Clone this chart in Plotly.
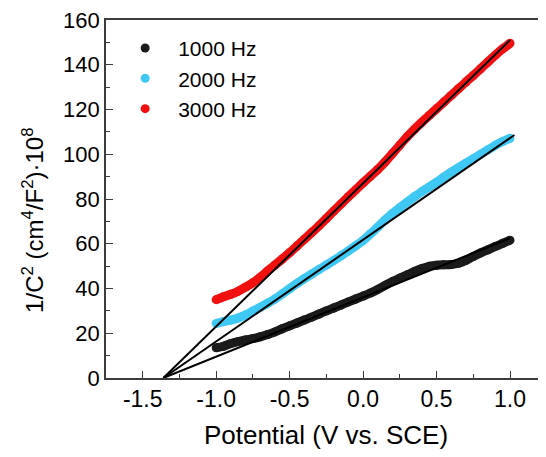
import plotly.graph_objects as go

# ==========================================================
# DATA
# ==========================================================

potential = [
    -1.00, -0.95, -0.90, -0.85, -0.80, -0.75, -0.70, -0.65, -0.60, -0.55,
    -0.50, -0.45, -0.40, -0.35, -0.30, -0.25, -0.20, -0.15, -0.10, -0.05,
    0.00, 0.05, 0.10, 0.15, 0.20, 0.25, 0.30, 0.35, 0.40, 0.45,
    0.50, 0.55, 0.60, 0.65, 0.70, 0.75, 0.80, 0.85, 0.90, 0.95, 1.00
]

c2_1000hz = [
    13.5, 14.2, 15.4, 16.3, 17.0, 17.6, 18.4, 19.4, 20.6, 22.0,
    23.3, 24.6, 25.9, 27.2, 28.6, 30.0, 31.3, 32.6, 34.0, 35.3,
    36.6, 38.0, 39.6, 41.4, 43.1, 44.6, 46.1, 47.6, 48.9, 49.9,
    50.4, 50.6, 50.7, 51.3, 52.6, 54.3, 55.9, 57.3, 58.8, 60.2, 61.6
]

c2_2000hz = [
    24.4, 25.2, 25.9, 26.8, 28.2, 29.9, 31.6, 33.4, 35.3, 37.6,
    39.9, 42.2, 44.4, 46.4, 48.5, 50.5, 52.5, 54.6, 56.8, 59.1,
    61.5, 64.4, 67.5, 70.6, 73.5, 76.1, 78.6, 81.0, 83.3, 85.4,
    87.5, 89.8, 92.0, 94.0, 96.0, 98.0, 100.0, 102.0, 104.0, 105.7, 107.1
]

c2_3000hz = [
    35.0, 36.3, 37.4, 38.8, 40.6, 42.6, 45.0, 47.8, 50.5, 53.2,
    56.0, 59.0, 62.0, 65.0, 68.1, 71.3, 74.6, 77.8, 81.0, 84.1,
    87.2, 90.2, 93.2, 96.6, 100.3, 104.1, 107.8, 111.2, 114.3, 117.3,
    120.3, 123.3, 126.3, 129.3, 132.3, 135.2, 138.2, 141.3, 144.3, 147.1, 149.6
]

# linear fits, extrapolated to the flat-band potential
fit_x_1000 = [-1.36, 1.00]
fit_y_1000 = [0.0, 62.5]
fit_x_2000 = [-1.36, 1.03]
fit_y_2000 = [0.0, 108.6]
fit_x_3000 = [-1.36, 1.00]
fit_y_3000 = [0.0, 151.0]

# x tick labels use a plain hyphen like the original figure
x_tick_values = [-1.5, -1.0, -0.5, 0.0, 0.5, 1.0]
x_tick_labels = ["-1.5", "-1.0", "-0.5", "0.0", "0.5", "1.0"]

series = [
    ("1000 Hz", c2_1000hz, "#1a1a1a", fit_x_1000, fit_y_1000),
    ("2000 Hz", c2_2000hz, "#3fc8f4", fit_x_2000, fit_y_2000),
    ("3000 Hz", c2_3000hz, "#f01010", fit_x_3000, fit_y_3000),
]

FONT = "Liberation Sans, Arial, sans-serif"
AXIS_COLOR = "#3c3c3c"

# ==========================================================
# FIGURE
# ==========================================================

fig = go.Figure()

# dense measured points drawn as a thick band
for name, values, color, fx, fy in series:

    fig.add_trace(
        go.Scatter(
            x=potential,
            y=values,
            mode="lines",
            showlegend=False,
            hoverinfo="skip",
            line=dict(color=color, width=9, shape="spline")
        )
    )

    fig.add_trace(
        go.Scatter(
            x=potential,
            y=values,
            mode="markers",
            name=name,
            marker=dict(size=9, color=color, line=dict(width=0))
        )
    )

# linear fits on top
for name, values, color, fx, fy in series:

    fig.add_trace(
        go.Scatter(
            x=fx,
            y=fy,
            mode="lines",
            showlegend=False,
            hoverinfo="skip",
            line=dict(color="black", width=2)
        )
    )

fig.update_layout(
    width=546,
    height=457,
    margin=dict(l=98, r=8, t=12, b=87),
    paper_bgcolor="white",
    plot_bgcolor="white",
    font=dict(family=FONT, size=22, color="black"),
    showlegend=True,
    legend=dict(
        x=0.014,
        y=0.978,
        xanchor="left",
        yanchor="top",
        bgcolor="rgba(0,0,0,0)",
        font=dict(size=21),
        itemsizing="trace",
        itemwidth=56,
        tracegroupgap=0
    ),
    xaxis=dict(
        range=[-1.75, 1.245],
        tickmode="array",
        tickvals=x_tick_values,
        ticktext=x_tick_labels,
        ticks="inside",
        ticklen=7,
        tickwidth=1.3,
        tickcolor=AXIS_COLOR,
        minor=dict(ticks="inside", dtick=0.25, tick0=-1.5, ticklen=4, tickwidth=1.3, tickcolor=AXIS_COLOR),
        showline=True,
        linecolor=AXIS_COLOR,
        linewidth=1.6,
        mirror=True,
        showgrid=False,
        zeroline=False,
        automargin=False,
        ticklabeloverflow="allow",
        tickfont=dict(size=23),
        title=dict(text="Potential (V vs. SCE)", font=dict(size=26), standoff=14)
    ),
    yaxis=dict(
        range=[0, 160],
        tickmode="linear",
        tick0=0,
        dtick=20,
        ticks="inside",
        ticklen=7,
        tickwidth=1.3,
        tickcolor=AXIS_COLOR,
        minor=dict(ticks="inside", dtick=10, ticklen=4, tickwidth=1.3, tickcolor=AXIS_COLOR),
        showline=True,
        linecolor=AXIS_COLOR,
        linewidth=1.6,
        mirror=False,
        showgrid=False,
        zeroline=False,
        automargin=False,
        ticklabeloverflow="allow",
        tickfont=dict(size=22)
    )
)

fig.add_annotation(
    text="1/C<sup>2</sup> (cm<sup>4</sup>/F<sup>2</sup>)·10<sup>8</sup>",
    xref="paper",
    yref="paper",
    x=-0.165,
    y=0.44,
    xanchor="center",
    yanchor="middle",
    textangle=-90,
    showarrow=False,
    font=dict(size=24)
)

fig.write_html("out.html")
